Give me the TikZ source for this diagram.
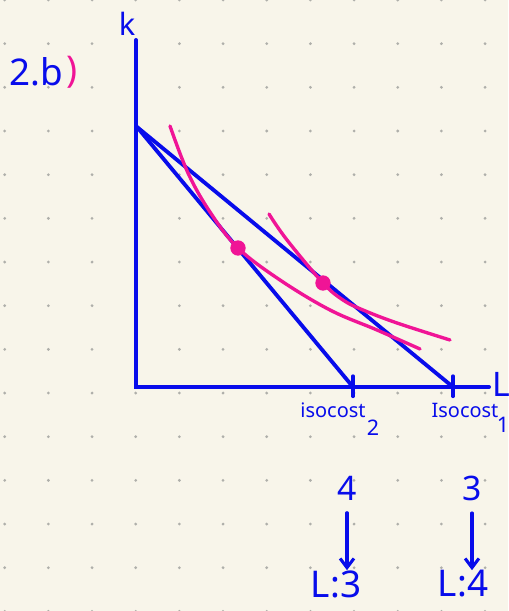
\documentclass[tikz,border=0pt]{standalone}
\usepackage{fontspec}
\setmainfont{Noto Sans}
\usetikzlibrary{arrows.meta}
\definecolor{paper}{RGB}{248,245,234}
\definecolor{dotgray}{RGB}{175,175,170}
\definecolor{penblue}{RGB}{8,12,235}
\definecolor{penpink}{RGB}{240,20,150}

\begin{document}
\begin{tikzpicture}[x=0.02290cm, y=-0.02290cm,
    axisline/.style={draw=penblue, line width=2.6pt, line cap=round},
    isocostline/.style={draw=penblue, line width=2.5pt, line cap=round},
    isoquant/.style={draw=penpink, line width=2.2pt, line cap=round},
    tangent/.style={circle, fill=penpink, inner sep=0pt, minimum size=10pt},
    hand/.style={text=penblue, inner sep=0pt},
    downarrow/.style={draw=penblue, line width=2pt, line cap=round,
      -{Straight Barb[length=6pt, width=9pt, line width=2pt]}}]
    % paper and dot grid
    \fill[paper] (0,0) rectangle (508,611);
    \useasboundingbox (0,0) rectangle (508,611);
    \foreach \i in {0,...,11}
      \foreach \j in {0,...,14}
        \fill[dotgray] (4.7+43.67*\i, 43.67*\j) circle (1pt);

    % axes
    \coordinate (O) at (136,387);
    \coordinate (Ktop) at (136,40);
    \coordinate (Lend) at (489,387);
    \draw[axisline] (Ktop) -- (O) -- (Lend);
    \node[hand, font=\fontsize{20}{20}\selectfont] (klab) at (127,24) {k};
    \node[hand, font=\fontsize{22}{22}\selectfont] (llab) at (501,384) {L};

    % isocost lines
    \coordinate (A) at (137,127);
    \coordinate (B2) at (353,387);
    \coordinate (B1) at (453,387);
    \draw[isocostline] (A) -- (B2);
    \draw[isocostline] (A) -- (B1);
    \draw[isocostline] ([yshift=7pt]B2) -- ([yshift=-6pt]B2);
    \draw[isocostline] ([yshift=7pt]B1) -- ([yshift=-6pt]B1);

    % isoquants
    \draw[isoquant] plot[smooth, tension=0.6] coordinates {(170,126) (188,173)
      (210,212) (238,248) (280,280) (330,310) (377,330) (420,349)};
    \draw[isoquant] plot[smooth, tension=0.6] coordinates {(269,214) (287,240)
      (323,283) (343,300) (363,310) (397,323) (450,340)};
    \node[tangent] (e2) at (238,248) {};
    \node[tangent] (e1) at (323,283) {};

    % labels
    \node[hand, font=\fontsize{24}{24}\selectfont] (part) at (36,72) {2.b};
    \node[text=penpink, inner sep=0pt, font=\fontsize{24}{24}\selectfont]
      (paren) at (72,72) {)};
    \node[hand, font=\fontsize{13}{13}\selectfont] (iso2) at (333,410) {isocost};
    \node[hand, font=\fontsize{14}{14}\selectfont] (sub2) at (373,428) {2};
    \node[hand, font=\fontsize{13}{13}\selectfont] (iso1) at (465,410) {Isocost};
    \node[hand, font=\fontsize{14}{14}\selectfont] (sub1) at (503,425) {1};

    % answers
    \node[hand, font=\fontsize{22}{22}\selectfont] (four) at (347,488) {4};
    \node[hand, font=\fontsize{22}{22}\selectfont] (three) at (472,488) {3};
    \node[hand, font=\fontsize{24}{24}\selectfont] (lthree) at (336,584) {L:3};
    \node[hand, font=\fontsize{24}{24}\selectfont] (lfour) at (463,584) {L:4};
    \draw[downarrow, shorten <=8pt, shorten >=9pt] (four) -- (four |- lthree);
    \draw[downarrow, shorten <=8pt, shorten >=9pt] (three) -- (three |- lfour);
  \end{tikzpicture}
\end{document}
